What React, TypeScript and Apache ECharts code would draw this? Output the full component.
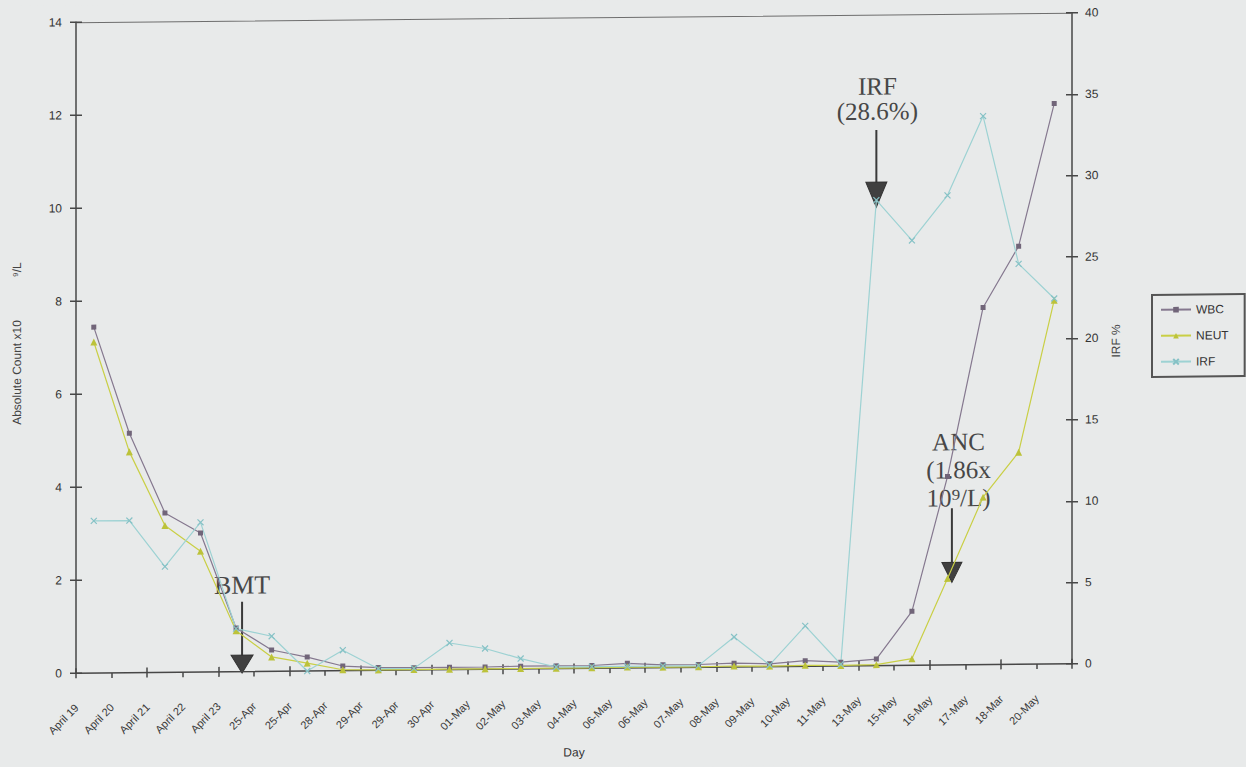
import React, { useEffect, useRef } from "react";
import * as echarts from "echarts";

// Day labels along the x axis (as printed on the chart)
const days = [
  "April 19", "April 20", "April 21", "April 22", "April 23",
  "25-Apr", "25-Apr", "28-Apr", "29-Apr", "29-Apr", "30-Apr",
  "01-May", "02-May", "03-May", "04-May", "06-May", "06-May",
  "07-May", "08-May", "09-May", "10-May", "11-May", "13-May",
  "15-May", "16-May", "17-May", "18-Mar", "20-May",
];

// White cell count, x10^9/L
const wbc = [
  7.44, 5.15, 3.43, 2.99, 0.94, 0.46, 0.3, 0.1, 0.06, 0.05, 0.05,
  0.05, 0.06, 0.06, 0.06, 0.1, 0.06, 0.06, 0.08, 0.06, 0.12, 0.08,
  0.14, 1.16, 4.05, 7.68, 8.99, 12.05,
];

// Absolute neutrophil count, x10^9/L
const neut = [
  7.12, 4.75, 3.16, 2.6, 0.88, 0.31, 0.17, 0.02, 0.01, 0.01, 0.01,
  0.01, 0.01, 0.01, 0.01, 0.02, 0.01, 0.01, 0.02, 0.01, 0.02, 0.01,
  0.02, 0.14, 1.86, 3.6, 4.56, 7.82,
];

// Immature reticulocyte fraction, %
const irf = [
  9.35, 9.35, 6.5, 9.2, 2.65, 2.16, 0, 1.26, 0.1, 0.1, 1.64,
  1.28, 0.64, 0.1, 0.1, 0.1, 0.1, 0.1, 1.84, 0.1, 2.48, 0.1,
  28.6, 26.1, 28.85, 33.7, 24.6, 22.45,
];

const countAxis = { min: 0, max: 14, interval: 2 };
const irfAxis = { min: 0, max: 40, interval: 5 };

// Annotated events
const bmtDay = 4;
const irfMark = { day: 22, value: 28.6 };
const ancMark = { day: 24, value: 1.86 };

const BG = "#e8eaea";
const AXIS = "#474747";
const INK = "#474747";
const SANS = "'Liberation Sans', Arial, sans-serif";
const SERIF = "'Liberation Serif', 'Times New Roman', serif";

export default function App() {
  const ref = useRef<HTMLDivElement>(null);

  useEffect(() => {
    const el = ref.current;
    if (!el) return;
    const chart = echarts.init(el, null, { renderer: "svg" });

    const tickStyle = { color: AXIS, width: 1.5 };

    chart.setOption({
      animation: false,
      backgroundColor: BG,
      textStyle: { fontFamily: SANS },
      grid: { left: 76, right: 174, top: 17, bottom: 99 },
      legend: {
        orient: "vertical",
        left: 1152,
        top: 300,
        data: ["WBC", "NEUT", "IRF"],
        itemWidth: 30,
        itemHeight: 7,
        itemGap: 14,
        padding: [9, 16, 9, 8],
        borderColor: "#555",
        borderWidth: 2,
        selectedMode: false,
        textStyle: { fontSize: 12, color: "#333", fontFamily: SANS },
      },
      xAxis: [
        {
          type: "category",
          data: days,
          position: "bottom",
          boundaryGap: true,
          axisLine: { onZero: false, lineStyle: { color: AXIS, width: 1.5 } },
          axisTick: { show: true, inside: false, length: 5, lineStyle: tickStyle },
          axisLabel: {
            interval: 0,
            rotate: 45,
            fontSize: 11,
            color: "#383838",
            margin: 23,
            verticalAlign: "bottom",
            padding: [0, 19, 0, 0],
          },
          name: "Day",
          nameLocation: "middle",
          nameGap: 78,
          nameTextStyle: { fontSize: 12, color: "#333", fontFamily: SANS },
        },
        {
          type: "category",
          data: days,
          position: "bottom",
          axisLine: { show: false, onZero: false },
          axisTick: { show: true, inside: true, length: 5, lineStyle: tickStyle },
          axisLabel: { show: false },
        },
        {
          type: "category",
          data: days,
          position: "top",
          axisLine: { show: true, onZero: false, lineStyle: { color: "#6e6e6e", width: 1 } },
          axisTick: { show: false },
          axisLabel: { show: false },
        },
      ],
      yAxis: [
        {
          type: "value",
          position: "left",
          ...countAxis,
          axisLine: { show: true, onZero: false, lineStyle: { color: AXIS, width: 1.5 } },
          axisTick: { show: true, length: 6, lineStyle: tickStyle },
          axisLabel: { fontSize: 12, color: "#333", margin: 14 },
          splitLine: { show: false },
        },
        {
          type: "value",
          position: "right",
          ...irfAxis,
          axisLine: { show: true, onZero: false, lineStyle: { color: AXIS, width: 1.5 } },
          axisTick: { show: true, length: 6, lineStyle: tickStyle },
          axisLabel: { fontSize: 12, color: "#333", margin: 13 },
          splitLine: { show: false },
        },
        {
          type: "value",
          position: "left",
          ...countAxis,
          axisLine: { show: false, onZero: false },
          axisTick: { show: true, inside: true, length: 6, lineStyle: tickStyle },
          axisLabel: { show: false },
          splitLine: { show: false },
        },
        {
          type: "value",
          position: "right",
          ...irfAxis,
          axisLine: { show: false, onZero: false },
          axisTick: { show: true, inside: true, length: 6, lineStyle: tickStyle },
          axisLabel: { show: false },
          splitLine: { show: false },
        },
      ],
      series: [
        {
          name: "WBC",
          type: "line",
          xAxisIndex: 0,
          yAxisIndex: 0,
          data: wbc,
          symbol: "rect",
          symbolSize: 5,
          showAllSymbol: true,
          lineStyle: { color: "#85788f", width: 1.2 },
          itemStyle: { color: "#716579" },
          emphasis: { disabled: true },
        },
        {
          name: "NEUT",
          type: "line",
          xAxisIndex: 0,
          yAxisIndex: 0,
          data: neut,
          symbol: "triangle",
          symbolSize: 7,
          showAllSymbol: true,
          lineStyle: { color: "#c9cf45", width: 1.2 },
          itemStyle: { color: "#bcc23a" },
          emphasis: { disabled: true },
        },
        {
          name: "IRF",
          type: "line",
          xAxisIndex: 0,
          yAxisIndex: 1,
          data: irf,
          symbol: "path://M0,0L8,8M8,0L0,8",
          symbolSize: 6,
          showAllSymbol: true,
          lineStyle: { color: "#9dd2d3", width: 1.2 },
          itemStyle: { color: "rgba(0,0,0,0)", borderColor: "#86c2c6", borderWidth: 1.2 },
          emphasis: { disabled: true },
        },
      ],
    });

    // Arrow callouts anchored to the data they point at
    const px = (day: number, value: number, yAxisIndex: number) =>
      chart.convertToPixel({ xAxisIndex: 0, yAxisIndex }, [day, value]) as number[];

    const arrow = (x: number, tipY: number, topY: number, headH: number, headW: number) => [
      {
        type: "line",
        shape: { x1: x, y1: topY, x2: x, y2: tipY - headH + 2 },
        style: { stroke: "#3a3a3a", lineWidth: 2 },
        silent: true,
      },
      {
        type: "polygon",
        shape: {
          points: [
            [x - headW / 2, tipY - headH],
            [x + headW / 2, tipY - headH],
            [x, tipY],
          ],
        },
        style: { fill: "#404040", stroke: "#333", lineWidth: 1 },
        silent: true,
      },
    ];

    const label = (x: number, y: number, text: string, size: number, lineHeight: number) => ({
      type: "text",
      x,
      y,
      silent: true,
      style: {
        text,
        fontSize: size,
        fontFamily: SERIF,
        fill: INK,
        align: "center",
        verticalAlign: "middle",
        textAlign: "center",
        textVerticalAlign: "middle",
        lineHeight,
      },
    });

    const sideTitle = (x: number, y: number, text: string) => ({
      type: "text",
      x,
      y,
      rotation: Math.PI / 2,
      silent: true,
      style: {
        text,
        fontSize: 12,
        fontFamily: SANS,
        fill: "#444",
        align: "center",
        verticalAlign: "middle",
        textAlign: "center",
        textVerticalAlign: "middle",
      },
    });

    const [bx, by] = px(bmtDay, 0, 0);
    const [ix, iy] = px(irfMark.day, irfMark.value, 1);
    const [ax, ay] = px(ancMark.day, ancMark.value, 0);

    chart.setOption({
      graphic: [
        ...arrow(bx + 6, by + 1.5, by - 70, 18, 22),
        label(bx + 6, by - 86.5, "BMT", 26, 28),
        ...arrow(ix, iy + 7, iy - 70, 25, 21),
        label(ix + 1, iy - 101.5, "IRF\n(28.6%)", 25, 25),
        ...arrow(ax + 4.4, ay + 4, ay - 70, 20, 20),
        label(ax + 11, ay - 108.5, "ANC\n(1.86x\n10⁹/L)", 25, 28),
        sideTitle(17.5, 366.7, "Absolute Count x10"),
        sideTitle(17, 264, "⁹/L"),
        sideTitle(1116.5, 345.7, "IRF %"),
      ],
    });

    return () => chart.dispose();
  }, []);

  return (
    <div
      style={{
        position: "fixed",
        left: 0,
        top: 0,
        width: 1246,
        height: 767,
        background: BG,
        overflow: "hidden",
      }}
    >
      <div
        ref={ref}
        style={{
          width: 1246,
          height: 767,
          transform: "skewY(-0.55deg)",
          transformOrigin: "623px 383.5px",
        }}
      />
    </div>
  );
}
